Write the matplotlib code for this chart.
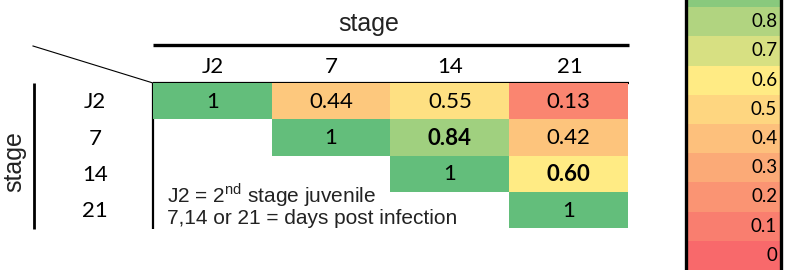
import numpy as np
import matplotlib.pyplot as plt
from matplotlib.colors import LinearSegmentedColormap

plt.rcParams['mathtext.fontset'] = 'custom'
plt.rcParams['mathtext.rm'] = 'Liberation Sans'

stages = ["J2", "7", "14", "21"]
# upper triangle of the similarity matrix (nan = empty cell)
values = np.array([
    [1.00, 0.44, 0.55, 0.13],
    [np.nan, 1.00, 0.84, 0.42],
    [np.nan, np.nan, 1.00, 0.60],
    [np.nan, np.nan, np.nan, 1.00],
])
labels = [
    ["1", "0.44", "0.55", "0.13"],
    ["", "1", "0.84", "0.42"],
    ["", "", "1", "0.60"],
    ["", "", "", "1"],
]
bold_cells = [(1, 2), (2, 3)]
legend_levels = [0, 0.1, 0.2, 0.3, 0.4, 0.5, 0.6, 0.7, 0.8, 0.9]

# excel style 3-colour scale: red -> yellow (0.6) -> green
cmap = LinearSegmentedColormap.from_list(
    "excel", [(0.0, "#F8696B"), (0.6, "#FFEB84"), (1.0, "#63BE7B")])

W, H = 786, 270
fig = plt.figure(figsize=(W / 100, H / 100), dpi=100)

def px_axes(x0, y0, x1, y1):
    return fig.add_axes([x0 / W, 1 - y1 / H, (x1 - x0) / W, (y1 - y0) / H])

# background axes in pixel coordinates for lines and labels
bg = fig.add_axes([0, 0, 1, 1])
bg.set_xlim(0, W)
bg.set_ylim(H, 0)
bg.axis("off")

# heatmap
hm = px_axes(153, 83, 628, 228)
hm.pcolormesh(np.ma.masked_invalid(values), cmap=cmap, vmin=0, vmax=1)
hm.set_xlim(0, 4)
hm.set_ylim(4, 0)
hm.axis("off")
cell_font = "Lato"
cell_size = 16
for i in range(4):
    for j in range(4):
        if labels[i][j]:
            hm.text(j + 0.5, i + 0.52, labels[i][j], ha="center", va="center",
                    fontsize=cell_size, family=cell_font,
                    fontweight="bold" if (i, j) in bold_cells else "normal")

# column and row headers
col_x = [153 + 119 * (k + 0.5) for k in range(4)]
row_y = [102, 139, 175, 211]
for k, s in enumerate(stages):
    bg.text(col_x[k], 67, s, ha="center", va="center", fontsize=cell_size, family=cell_font)
    bg.text(95, row_y[k], s, ha="center", va="center", fontsize=cell_size, family=cell_font)

bg.text(369, 24, "stage", ha="center", va="center", fontsize=18,
        family="Liberation Sans", color="#222222")
bg.text(14, 162, "stage", ha="center", va="center", fontsize=18, rotation=90,
        family="Liberation Sans", color="#222222")

# rules
bg.plot([153, 629], [45, 45], color="black", lw=2.4, solid_capstyle="butt")
bg.plot([153, 629], [83, 83], color="black", lw=1.6, solid_capstyle="butt")
bg.plot([34, 34], [83, 229], color="black", lw=2.0, solid_capstyle="butt")
bg.plot([153, 153], [83, 229], color="black", lw=1.6, solid_capstyle="butt")
bg.plot([33, 153], [46, 83], color="black", lw=0.8)

bg.text(167, 195, r"J2 = 2$^{\mathrm{nd}}$ stage juvenile", ha="left", va="center",
        fontsize=15, family="Liberation Sans", color="#222222")
bg.text(167, 218, "7,14 or 21 = days post infection", ha="left", va="center",
        fontsize=15, family="Liberation Sans", color="#222222")

# colour key (top cut off)
lg = px_axes(686, 0, 781, 270)
band_h = 29.2
n_vis = H / band_h
lg.pcolormesh([0, 1], np.arange(len(legend_levels) + 1) - 0.5,
              np.array(legend_levels)[:, None], cmap=cmap, vmin=0, vmax=1)
lg.set_xlim(0, 1)
lg.set_ylim(-0.5, n_vis - 0.5)
lg.set_xticks([])
lg.set_yticks([])
for side in ["top", "bottom"]:
    lg.spines[side].set_visible(False)
for side in ["left", "right"]:
    lg.spines[side].set_linewidth(2.4)
for k, v in enumerate(legend_levels):
    lg.text(0.96, k, f"{v:g}", ha="right", va="center", fontsize=13.5, family=cell_font)

fig.savefig("out.png", dpi=100)
